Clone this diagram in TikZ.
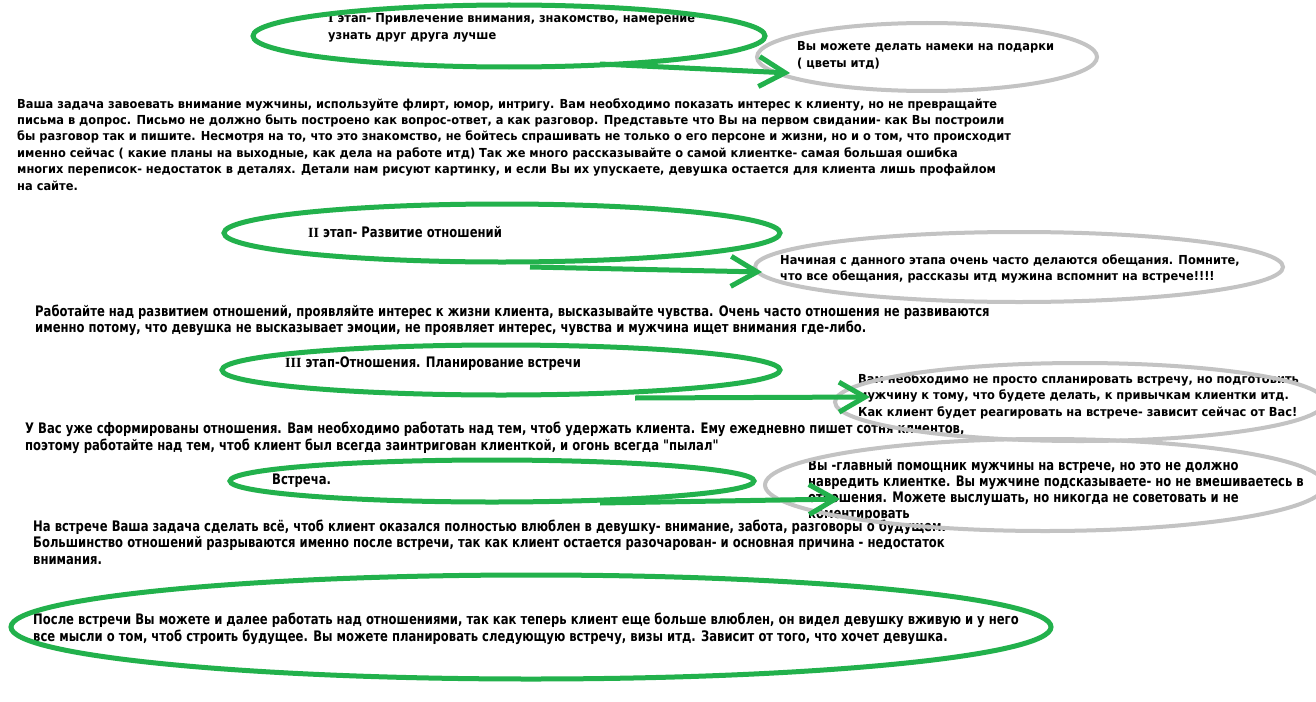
\documentclass[tikz,border=0pt]{standalone}
\usepackage{fontspec}
\setmainfont{DejaVu Sans}
\newfontfamily\tahfont{DejaVu Sans}[FakeStretch=0.92]
\newfontfamily\condfont{DejaVu Sans}[FakeStretch=0.8]
\newfontfamily\romfont{Liberation Serif}
\usetikzlibrary{shapes.geometric,arrows.meta}
\definecolor{pgreen}{RGB}{34,177,76}
\definecolor{pgrey}{RGB}{195,195,195}
\tikzset{
  greenell/.style={draw=pgreen, line width=5pt, ellipse, inner sep=0pt, outer sep=0pt},
  greyell/.style={draw=pgrey, line width=4pt, ellipse, inner sep=0pt, outer sep=0pt},
  wtext/.style={anchor=base west, inner sep=0pt, align=left, text=black,
    font=\tahfont\bfseries\fontsize{12.4}{16.6}\selectfont},
  ctext/.style={anchor=base west, inner sep=0pt, align=left, text=black,
    font=\condfont\bfseries\fontsize{14.5}{16.6}\selectfont},
  garrow/.style={draw=pgreen, line width=5pt, -{Straight Barb[length=26pt,width=30pt]}},
}
\newcommand{\romnum}[1]{{\romfont\bfseries\fontsize{14}{16}\selectfont #1}}
\begin{document}
\begin{tikzpicture}[x=1pt,y=-1pt]
\useasboundingbox (0,0) rectangle (1316,701);
\fill[white] (0,0) rectangle (1316,701);

% texts (anchor = baseline of the last line)
\node[wtext] (t1) at (328,39.6) {\romnum{I} этап- Привлечение внимания, знакомство, намерение\\узнать друг друга лучше};
\node[wtext] (tg1) at (797,67.6) {Вы можете делать намеки на подарки\\( цветы итд)};
\node[wtext, font=\tahfont\bfseries\fontsize{12.4}{16.4}\selectfont] (p1) at (17,190) {Ваша задача завоевать внимание мужчины, используйте флирт, юмор, интригу. Вам необходимо показать интерес к клиенту, но не превращайте\\
письма в допрос. Письмо не должно быть построено как вопрос-ответ, а как разговор. Представьте что Вы на первом свидании- как Вы построили\\
бы разговор так и пишите. Несмотря на то, что это знакомство, не бойтесь спрашивать не только о его персоне и жизни, но и о том, что происходит\\
именно сейчас ( какие планы на выходные, как дела на работе итд) Так же много рассказывайте о самой клиентке- самая большая ошибка\\
многих переписок- недостаток в деталях. Детали нам рисуют картинку, и если Вы их упускаете, девушка остается для клиента лишь профайлом\\
на сайте.};
\node[ctext] (t2) at (308,237) {\romnum{II} этап- Развитие отношений};
\node[wtext] (tg2) at (780,280.6) {Начиная с данного этапа очень часто делаются обещания. Помните,\\что все обещания, рассказы итд мужина вспомнит на встрече!!!!};
\node[ctext] (p2) at (35,332.6) {Работайте над развитием отношений, проявляйте интерес к жизни клиента, высказывайте чувства. Очень часто отношения не развиваются\\
именно потому, что девушка не высказывает эмоции, не проявляет интерес, чувства и мужчина ищет внимания где-либо.};
\node[ctext] (t3) at (285,367) {\romnum{III} этап-Отношения. Планирование встречи};
\node[wtext] (tg3) at (858,416.2) {Вам необходимо не просто спланировать встречу, но подготовить\\мужчину к тому, что будете делать, к привычкам клиентки итд.\\Как клиент будет реагировать на встрече- зависит сейчас от Вас!};
\node[ctext] (p3) at (25,450) {У Вас уже сформированы отношения. Вам необходимо работать над тем, чтоб удержать клиента. Ему ежедневно пишет сотня клиентов,\\
поэтому работайте над тем, чтоб клиент был всегда заинтригован клиенткой, и огонь всегда "пылал"};
\node[ctext] (t4) at (272,484) {Встреча.};
\node[ctext, font=\condfont\bfseries\fontsize{14.5}{16}\selectfont] (tg4) at (808,518) {Вы -главный помощник мужчины на встрече, но это не должно\\навредить клиентке. Вы мужчине подсказываете- но не вмешиваетесь в\\отношения. Можете выслушать, но никогда не советовать и не\\коментировать};
\node[ctext] (p4) at (33,564.2) {На встрече Ваша задача сделать всё, чтоб клиент оказался полностью влюблен в девушку- внимание, забота, разговоры о будущем.\\
Большинство отношений разрываются именно после встречи, так как клиент остается разочарован- и основная причина - недостаток\\
внимания.};
\node[ctext, font=\condfont\bfseries\fontsize{14.5}{17}\selectfont] (p5) at (33,641) {После встречи Вы можете и далее работать над отношениями, так как теперь клиент еще больше влюблен, он видел девушку вживую и у него\\
все мысли о том, чтоб строить будущее. Вы можете планировать следующую встречу, визы итд. Зависит от того, что хочет девушка.};

% ellipses
\node[greenell, minimum width=512pt, minimum height=62pt] (e1) at (509,36) {};
\node[greyell, minimum width=340pt, minimum height=68pt] (g1) at (927,57) {};
\node[greenell, minimum width=556pt, minimum height=58pt] (e2) at (502,233) {};
\node[greyell, minimum width=528pt, minimum height=70pt] (g2) at (1019,267) {};
\node[greenell, minimum width=558pt, minimum height=50pt] (e3) at (501,370) {};
\node[greyell, minimum width=490pt, minimum height=78pt] (g3) at (1080,402) {};
\node[greenell, minimum width=524pt, minimum height=42pt] (e4) at (492,481) {};
\node[greyell, minimum width=560pt, minimum height=92pt] (g4) at (1045,485) {};
\node[greenell, minimum width=1040pt, minimum height=104pt] (e5) at (531,627) {};

% arrows
\coordinate (a1s) at (600,64);  \coordinate (a1e) at (790,73);
\coordinate (a2s) at (530,267); \coordinate (a2e) at (762,272);
\coordinate (a3s) at (635,398); \coordinate (a3e) at (870,397);
\coordinate (a4s) at (600,503); \coordinate (a4e) at (840,499);
\draw[garrow] (a1s) -- (a1e);
\draw[garrow] (a2s) -- (a2e);
\draw[garrow] (a3s) -- (a3e);
\draw[garrow] (a4s) -- (a4e);
\end{tikzpicture}
\end{document}
